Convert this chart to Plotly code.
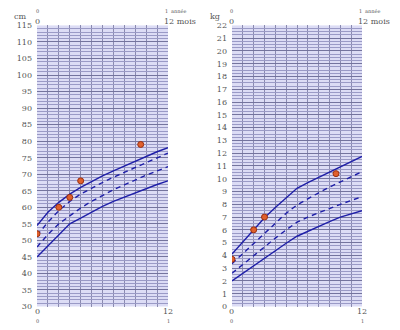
import plotly.graph_objects as go

# Months 0..12 for the reference curves
months = list(range(13))

# Height-for-age percentiles (cm)
height_p97 = [54.5, 58.5, 61.5, 64.0, 66.0, 67.8, 69.5, 71.0, 72.5, 74.0, 75.5, 76.8, 78.0]
height_p75 = [51.5, 55.5, 59.0, 61.8, 64.0, 65.8, 67.5, 69.1, 70.6, 72.0, 73.5, 75.0, 76.4]
height_p25 = [48.0, 51.8, 55.0, 57.5, 59.8, 61.8, 63.6, 65.3, 66.8, 68.3, 69.7, 71.0, 72.3]
height_p3 = [45.0, 48.3, 51.6, 55.0, 56.7, 58.5, 60.3, 61.8, 63.1, 64.3, 65.6, 66.9, 68.0]

# Weight-for-age percentiles (kg)
weight_p97 = [4.1, 5.05, 6.0, 6.95, 7.75, 8.5, 9.25, 9.7, 10.1, 10.5, 10.9, 11.35, 11.75]
weight_p75 = [3.35, 4.15, 4.95, 5.75, 6.55, 7.3, 7.95, 8.45, 8.9, 9.35, 9.75, 10.15, 10.55]
weight_p25 = [2.6, 3.3, 4.0, 4.7, 5.35, 6.0, 6.6, 7.0, 7.35, 7.7, 8.0, 8.3, 8.6]
weight_p3 = [2.0, 2.6, 3.2, 3.8, 4.4, 4.95, 5.5, 5.9, 6.3, 6.65, 7.0, 7.25, 7.5]

# Child's measurements
height_age = [0, 2, 3, 4, 9.5]
height_cm = [52, 60, 63, 68, 79]
weight_age = [0, 2, 3, 9.6]
weight_kg = [3.7, 6.0, 7.0, 10.4]

pct_labels = ["97%", "75%", "25%", "3%"]
height_label_y = [79.5, 77.0, 72.6, 68.5]
weight_label_y = [12.0, 10.75, 8.9, 7.3]

CURVE = "#1f1fa8"
TEXT = "#555555"
FONT = "DejaVu Serif"

fig = go.Figure()

def add_curves(series, xa, ya):
    styles = ["solid", "5px,4px", "5px,4px", "solid"]
    for vals, dash in zip(series, styles):
        fig.add_trace(go.Scatter(x=months, y=vals, mode="lines", xaxis=xa, yaxis=ya,
                                 line=dict(color=CURVE, width=1.4, dash=dash),
                                 hoverinfo="skip", showlegend=False))

add_curves([height_p97, height_p75, height_p25, height_p3], "x", "y")
add_curves([weight_p97, weight_p75, weight_p25, weight_p3], "x2", "y2")

dot = dict(size=6, color="#e0602c", line=dict(color="#9a2f10", width=1))
fig.add_trace(go.Scatter(x=height_age, y=height_cm, mode="markers", marker=dot,
                         xaxis="x", yaxis="y", showlegend=False))
fig.add_trace(go.Scatter(x=weight_age, y=weight_kg, mode="markers", marker=dot,
                         xaxis="x2", yaxis="y2", showlegend=False))

BG = "#dcdcf5"
MINOR = "#9a9ac6"
MAJOR = "#74749e"

def xaxis(domain, anchor):
    return dict(domain=domain, anchor=anchor, range=[0, 12], tickvals=[0, 12],
                showticklabels=False, showgrid=True, gridcolor=MAJOR, gridwidth=1,
                minor=dict(dtick=1, showgrid=True, gridcolor="#8a8ab0", gridwidth=1),
                zeroline=False, showline=False, ticks="", fixedrange=True)

def yaxis(domain, anchor, rng, major, minor):
    return dict(domain=domain, anchor=anchor, range=rng, dtick=major, tick0=0,
                showgrid=True, gridcolor=MAJOR, gridwidth=1,
                minor=dict(dtick=minor, showgrid=True, gridcolor=MINOR, gridwidth=1),
                tickfont=dict(family=FONT, size=8, color=TEXT), ticks="",
                ticklabelstandoff=4,
                zeroline=False, showline=False, fixedrange=True)

ydom = [1 - 311 / 330, 1 - 22 / 330]
fig.update_layout(
    width=400, height=330, margin=dict(l=0, r=0, t=0, b=0),
    paper_bgcolor="white", plot_bgcolor=BG, showlegend=False,
    xaxis=xaxis([37 / 400, 168 / 400], "y"),
    yaxis=yaxis(ydom, "x", [30, 115], 5, 1),
    xaxis2=xaxis([232 / 400, 362 / 400], "y2"),
    yaxis2=yaxis(ydom, "x2", [0, 22], 1, 0.25),
)

ann = []

def txt(x, y, s, size=8, xanchor="center"):
    ann.append(dict(x=x, y=y, xref="paper", yref="paper", text=s, showarrow=False,
                    xanchor=xanchor, yanchor="middle", borderpad=0,
                    font=dict(family=FONT, size=size, color=TEXT)))

def px(xp, yp):
    return xp / 400, 1 - yp / 330

for x0, x1, unit in [(37, 168, "cm"), (232, 362, "kg")]:
    # unit label and top scale (years above, months below)
    txt(*px(x0 - 17, 13), unit)
    txt(*px(x0, 7.5), "0", size=5)
    txt(*px(x0, 17.5), "0", size=8)
    txt(*px(x1 - 2, 7.5), "1", size=5)
    txt(*px(x1 + 2, 7.5), "année", size=5, xanchor="left")
    txt(*px(x1 - 5, 17.5), "12 mois", size=8, xanchor="left")
    # bottom scale (months above, years below)
    txt(*px(x0, 316), "0", size=8)
    txt(*px(x0, 325.5), "0", size=5)
    txt(*px(x1, 316), "12", size=8)
    txt(*px(x1, 325.5), "1", size=5)

for lab, yv in zip(pct_labels, height_label_y):
    ann.append(dict(x=12.3, y=yv, xref="x", yref="y", text=lab, showarrow=False,
                    xanchor="left", yanchor="middle",
                    font=dict(family=FONT, size=7, color=TEXT)))
for lab, yv in zip(pct_labels, weight_label_y):
    ann.append(dict(x=12.3, y=yv, xref="x2", yref="y2", text=lab, showarrow=False,
                    xanchor="left", yanchor="middle",
                    font=dict(family=FONT, size=7, color=TEXT)))

fig.update_layout(annotations=ann)
fig.write_html("out.html")
